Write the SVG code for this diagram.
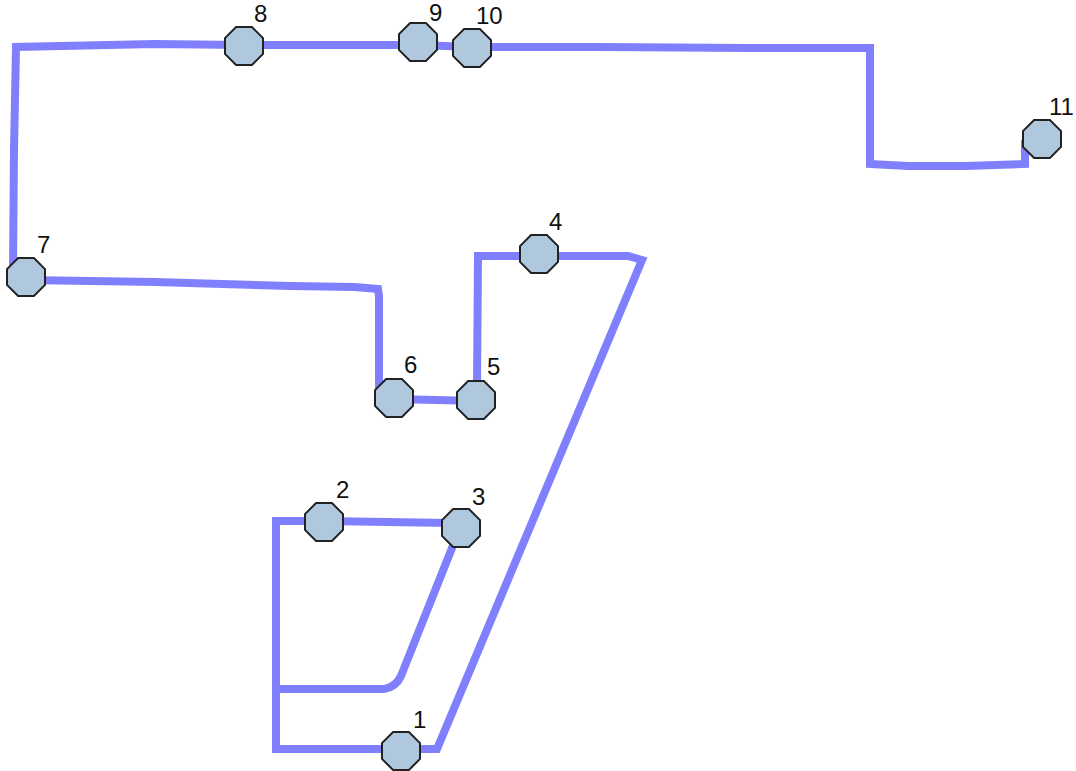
<svg xmlns="http://www.w3.org/2000/svg" width="1076" height="771" viewBox="0 0 1076 771">
<style>
.edge{fill:none;stroke:#8080FF;stroke-width:8;stroke-linejoin:miter;stroke-linecap:butt}
.node{fill:#AFC8DE;stroke:#222;stroke-width:2}
.lbl{font-family:"Liberation Sans",Arial,sans-serif;font-size:24px;fill:#111}
</style>
<defs>
<polygon id="oct" points="-7.9,-19 7.9,-19 19,-7.9 19,7.9 7.9,19 -7.9,19 -19,7.9 -19,-7.9"/>
</defs>
<rect width="1076" height="771" fill="#fff"/>
<g id="connectors">
<polyline class="edge" points="13,270 14,150 16,47 155,44 243,45 418,45 472,47 600,47 750,48 870,48 870,164 908,166 965,166 1025,164 1025,143 1040,139"/>
<polyline class="edge" points="26,280 155,282 290,286 355,287 378,289 379,296 379,386 394,399 476,401 477,385 478,256 628,256 642,260 437,749 401,749 276,749 276,521 324,521 450,523"/>
<path class="edge" d="M276,689 L384,689 Q396,687 401,676 L454,543"/>
</g>
<g id="node1"><use href="#oct" class="node" x="401" y="751"/><text class="lbl" x="413" y="728">1</text></g>
<g id="node2"><use href="#oct" class="node" x="324" y="522"/><text class="lbl" x="336" y="498">2</text></g>
<g id="node3"><use href="#oct" class="node" x="461" y="528"/><text class="lbl" x="472" y="505">3</text></g>
<g id="node4"><use href="#oct" class="node" x="539" y="254"/><text class="lbl" x="549" y="230">4</text></g>
<g id="node5"><use href="#oct" class="node" x="476" y="400"/><text class="lbl" x="487" y="375">5</text></g>
<g id="node6"><use href="#oct" class="node" x="394" y="398"/><text class="lbl" x="404" y="373">6</text></g>
<g id="node7"><use href="#oct" class="node" x="26" y="277"/><text class="lbl" x="37" y="253">7</text></g>
<g id="node8"><use href="#oct" class="node" x="244" y="46"/><text class="lbl" x="254" y="22">8</text></g>
<g id="node9"><use href="#oct" class="node" x="418" y="42"/><text class="lbl" x="429" y="21">9</text></g>
<g id="node10"><use href="#oct" class="node" x="472" y="48"/><text class="lbl" x="476" y="24">10</text></g>
<g id="node11"><use href="#oct" class="node" x="1042" y="139"/><text class="lbl" x="1049" y="115">11</text></g>
</svg>
